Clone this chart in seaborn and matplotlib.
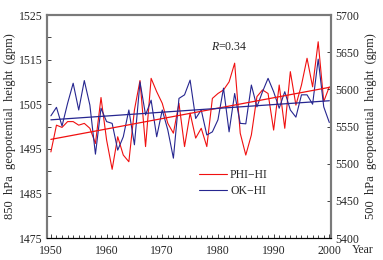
import numpy as np
import pandas as pd
import matplotlib
matplotlib.use("Agg")
import matplotlib.pyplot as plt
from matplotlib.ticker import MultipleLocator
import seaborn as sns

# Values (850 hPa height, gpm)
years = list(range(1950, 2001))
phi_hi = [1494.3, 1500.3, 1499.8, 1501.1, 1501.1, 1500.3, 1500.7, 1499.6, 1496.2, 1506.5,
          1497.0, 1490.4, 1497.7, 1493.6, 1492.1, 1503.7, 1510.3, 1495.5, 1510.8, 1507.8,
          1505.2, 1500.7, 1498.5, 1505.2, 1495.5, 1503.0, 1497.4, 1499.6, 1495.5, 1506.3,
          1507.4, 1508.2, 1510.0, 1514.2, 1498.5, 1493.6, 1498.1, 1506.7, 1508.2, 1507.4,
          1499.2, 1509.3, 1499.6, 1512.3, 1504.8, 1509.3, 1515.3, 1508.9, 1519.0, 1505.6,
          1508.9]
ok_hi = [1502.4, 1504.3, 1500.1, 1505.2, 1509.7, 1503.7, 1510.3, 1504.8, 1493.8, 1504.1,
         1501.1, 1500.7, 1494.7, 1497.7, 1503.7, 1495.9, 1510.0, 1502.6, 1505.9, 1497.7,
         1503.7, 1499.2, 1492.9, 1506.3, 1507.1, 1510.4, 1501.8, 1503.7, 1498.1, 1498.8,
         1501.5, 1508.6, 1498.8, 1507.4, 1500.7, 1500.6, 1509.3, 1504.4, 1507.8, 1510.8,
         1507.8, 1504.1, 1507.8, 1503.7, 1502.1, 1507.1, 1507.1, 1505.0, 1515.1, 1504.4,
         1500.9]
left_ticks = [1475, 1485, 1495, 1505, 1515, 1525]
right_ticks = [5400, 5450, 5500, 5550, 5600, 5650, 5700]

df = pd.DataFrame({"year": years, "PHI-HI": phi_hi, "OK-HI": ok_hi})

red = "#f01010"
blue = "#262690"
fs = 8.5

sns.set_style("ticks")
plt.rcParams["font.family"] = ["Liberation Serif", "DejaVu Serif"]
plt.rcParams["mathtext.fontset"] = "custom"
plt.rcParams["mathtext.it"] = "Liberation Serif:italic"
plt.rcParams["mathtext.rm"] = "Liberation Serif"

fig = plt.figure(figsize=(3.83, 2.60), dpi=100)
ax = fig.add_axes([0.1227, 0.0846, 0.7415, 0.8577])

sns.lineplot(data=df, x="year", y="PHI-HI", color=red, lw=0.8, ax=ax, label="PHI\u2212HI")
sns.lineplot(data=df, x="year", y="OK-HI", color=blue, lw=0.8, ax=ax, label="OK\u2212HI")
sns.regplot(data=df, x="year", y="PHI-HI", scatter=False, ci=None, color=red,
            line_kws={"lw": 0.9}, ax=ax)
sns.regplot(data=df, x="year", y="OK-HI", scatter=False, ci=None, color=blue,
            line_kws={"lw": 0.9}, ax=ax)

ax.set_xlim(1949.3, 2000.3)
ax.set_ylim(1475, 1525)
ax.xaxis.set_major_locator(MultipleLocator(10))
ax.xaxis.set_minor_locator(MultipleLocator(1))
ax.set_yticks(left_ticks)
ax.yaxis.set_minor_locator(MultipleLocator(10))
ax.tick_params(axis="both", which="both", direction="in", labelsize=fs, pad=3)
ax.tick_params(axis="both", which="major", length=3, width=0.6)
ax.tick_params(axis="both", which="minor", length=2, width=0.6)
ax.tick_params(axis="y", which="minor", length=3)
ax.tick_params(axis="x", pad=5)
ax.set_xlabel("")
ax.set_ylabel("850  hPa  geopotential  height  (gpm)", fontsize=9, labelpad=2)

ax2 = ax.twinx()
ax2.set_ylim(5400, 5700)
ax2.set_yticks(right_ticks)
ax2.tick_params(axis="y", direction="in", labelsize=fs, length=3, width=0.6, pad=3)
ax2.set_ylabel("500  hPa  geopotential  height  (gpm)", fontsize=9, rotation=90, labelpad=4)

for a in (ax, ax2):
    for side in ("left", "right", "top"):
        a.spines[side].set_color("#7a7a7a")
        a.spines[side].set_linewidth(1.5)
    a.spines["bottom"].set_color("black")
    a.spines["bottom"].set_linewidth(0.8)

ax.text(0.64, 0.855, "$R$=0.34", transform=ax.transAxes, fontsize=fs, ha="center", va="center")
ax.text(1.11, -0.054, "Year", transform=ax.transAxes, fontsize=fs, ha="center", va="center")

leg = ax.legend(loc="upper left", bbox_to_anchor=(0.52, 0.33), frameon=False, fontsize=fs,
                handlelength=2.3, handletextpad=0.3, labelspacing=0.35, borderaxespad=0)

fig.savefig("out.png", dpi=100)
